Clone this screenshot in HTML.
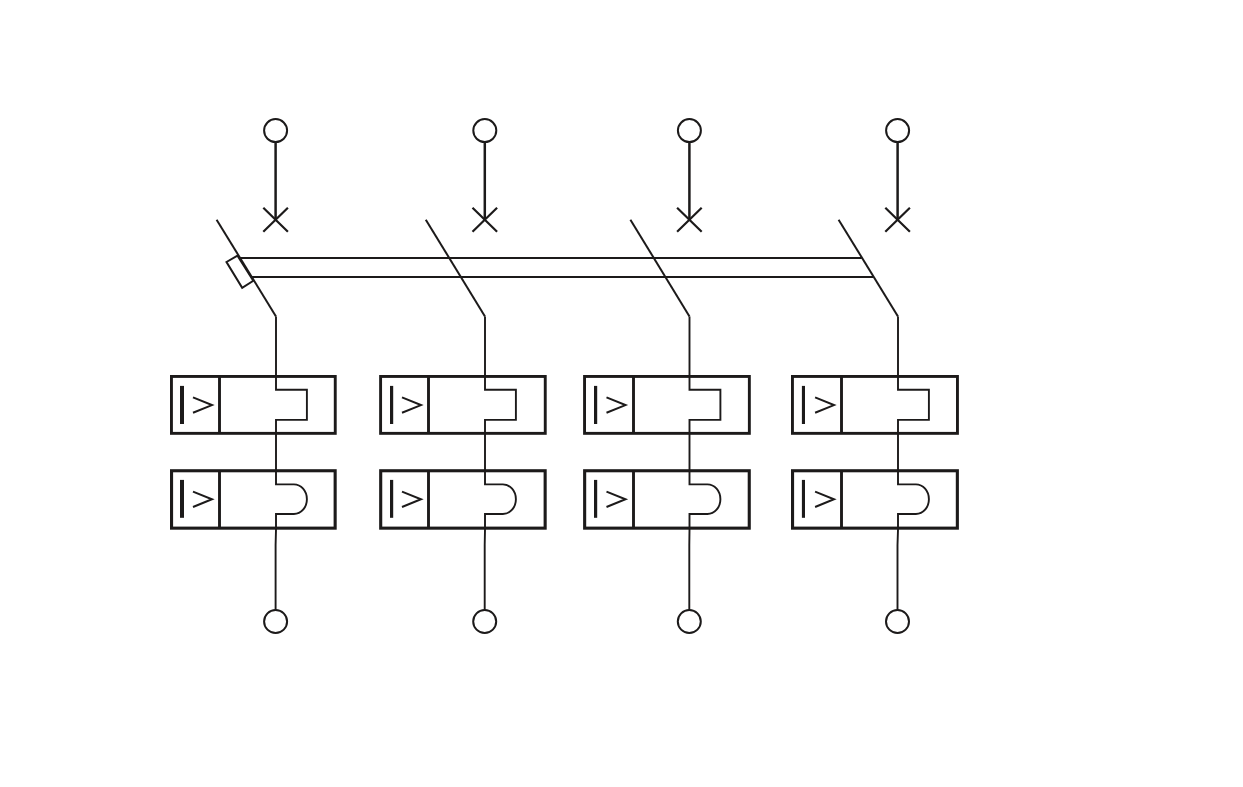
<!DOCTYPE html>
<html><head><meta charset="utf-8"><title>Circuit breaker 4P</title>
<style>html,body{margin:0;padding:0;background:#fff;}svg{display:block;}</style></head>
<body><svg width="1243" height="787" viewBox="0 0 1243 787">
<rect width="1243" height="787" fill="#fff"/>
<line x1="239.5" y1="258" x2="861.8" y2="258" stroke="#1c1a1a" stroke-width="2"/>
<line x1="252" y1="277" x2="873" y2="277" stroke="#1c1a1a" stroke-width="2"/>
<polygon points="237.5,255.7 226.5,262 242.2,287.8 253.3,280.8" fill="none" stroke="#1c1a1a" stroke-width="2"/>
<circle cx="275.6" cy="130.6" r="11.5" fill="none" stroke="#1c1a1a" stroke-width="2"/>
<line x1="275.6" y1="141.9" x2="275.6" y2="219.5" stroke="#1c1a1a" stroke-width="2.5"/>
<path d="M263.3 207.8 L287.9 231.8 M287.9 207.8 L263.3 231.8" stroke="#1c1a1a" stroke-width="2.2" fill="none"/>
<line x1="216.6" y1="219.7" x2="276" y2="316.4" stroke="#1c1a1a" stroke-width="2"/>
<path d="M276 316.4 V389.8 H306.9 V419.9 H276 V484.4 H293.9 A13 14.8 0 0 1 293.9 514 H276 V529.7 L275.6 545 V610.2" stroke="#1c1a1a" stroke-width="1.9" fill="none"/>
<circle cx="275.6" cy="621.5" r="11.5" fill="none" stroke="#1c1a1a" stroke-width="2"/>
<circle cx="484.8" cy="130.6" r="11.5" fill="none" stroke="#1c1a1a" stroke-width="2"/>
<line x1="484.8" y1="141.9" x2="484.8" y2="219.5" stroke="#1c1a1a" stroke-width="2.5"/>
<path d="M472.5 207.8 L497.1 231.8 M497.1 207.8 L472.5 231.8" stroke="#1c1a1a" stroke-width="2.2" fill="none"/>
<line x1="425.8" y1="219.7" x2="485" y2="316.4" stroke="#1c1a1a" stroke-width="2"/>
<path d="M485 316.4 V389.8 H515.9 V419.9 H485 V484.4 H502.9 A13 14.8 0 0 1 502.9 514 H485 V529.7 L484.7 545 V610.2" stroke="#1c1a1a" stroke-width="1.9" fill="none"/>
<circle cx="484.7" cy="621.5" r="11.5" fill="none" stroke="#1c1a1a" stroke-width="2"/>
<circle cx="689.4" cy="130.6" r="11.5" fill="none" stroke="#1c1a1a" stroke-width="2"/>
<line x1="689.4" y1="141.9" x2="689.4" y2="219.5" stroke="#1c1a1a" stroke-width="2.5"/>
<path d="M677.1 207.8 L701.7 231.8 M701.7 207.8 L677.1 231.8" stroke="#1c1a1a" stroke-width="2.2" fill="none"/>
<line x1="630.4" y1="219.7" x2="689.5" y2="316.4" stroke="#1c1a1a" stroke-width="2"/>
<path d="M689.5 316.4 V389.8 H720.4 V419.9 H689.5 V484.4 H707.4 A13 14.8 0 0 1 707.4 514 H689.5 V529.7 L689.3 545 V610.2" stroke="#1c1a1a" stroke-width="1.9" fill="none"/>
<circle cx="689.3" cy="621.5" r="11.5" fill="none" stroke="#1c1a1a" stroke-width="2"/>
<circle cx="897.6" cy="130.6" r="11.5" fill="none" stroke="#1c1a1a" stroke-width="2"/>
<line x1="897.6" y1="141.9" x2="897.6" y2="219.5" stroke="#1c1a1a" stroke-width="2.5"/>
<path d="M885.3 207.8 L909.9 231.8 M909.9 207.8 L885.3 231.8" stroke="#1c1a1a" stroke-width="2.2" fill="none"/>
<line x1="838.6" y1="219.7" x2="898" y2="316.4" stroke="#1c1a1a" stroke-width="2"/>
<path d="M898 316.4 V389.8 H928.9 V419.9 H898 V484.4 H915.9 A13 14.8 0 0 1 915.9 514 H898 V529.7 L897.5 545 V610.2" stroke="#1c1a1a" stroke-width="1.9" fill="none"/>
<circle cx="897.5" cy="621.5" r="11.5" fill="none" stroke="#1c1a1a" stroke-width="2"/>
<rect x="171.45" y="376.45" width="163.8" height="56.9" fill="none" stroke="#1c1a1a" stroke-width="2.9"/>
<line x1="219.5" y1="376.4" x2="219.5" y2="433.4" stroke="#1c1a1a" stroke-width="2.9"/>
<rect x="180" y="385.9" width="4" height="38.1" fill="#1c1a1a"/>
<path d="M193 397.4 L212 405.1 L193 412.8" stroke="#1c1a1a" stroke-width="2" fill="none" stroke-miterlimit="10"/>
<rect x="171.55" y="470.75" width="163.6" height="57.4" fill="none" stroke="#1c1a1a" stroke-width="3.1"/>
<line x1="219.5" y1="470.6" x2="219.5" y2="528.3" stroke="#1c1a1a" stroke-width="2.9"/>
<rect x="180" y="479.9" width="4" height="37.9" fill="#1c1a1a"/>
<path d="M193 491.6 L212 499.3 L193 507" stroke="#1c1a1a" stroke-width="2" fill="none" stroke-miterlimit="10"/>
<rect x="380.6" y="376.45" width="164.65" height="56.9" fill="none" stroke="#1c1a1a" stroke-width="2.9"/>
<line x1="428.5" y1="376.4" x2="428.5" y2="433.4" stroke="#1c1a1a" stroke-width="2.9"/>
<rect x="390" y="385.9" width="3.2" height="38.1" fill="#1c1a1a"/>
<path d="M402 397.4 L421 405.1 L402 412.8" stroke="#1c1a1a" stroke-width="2" fill="none" stroke-miterlimit="10"/>
<rect x="380.7" y="470.75" width="164.45" height="57.4" fill="none" stroke="#1c1a1a" stroke-width="3.1"/>
<line x1="428.5" y1="470.6" x2="428.5" y2="528.3" stroke="#1c1a1a" stroke-width="2.9"/>
<rect x="390" y="479.9" width="3.2" height="37.9" fill="#1c1a1a"/>
<path d="M402 491.6 L421 499.3 L402 507" stroke="#1c1a1a" stroke-width="2" fill="none" stroke-miterlimit="10"/>
<rect x="584.55" y="376.45" width="164.8" height="56.9" fill="none" stroke="#1c1a1a" stroke-width="2.9"/>
<line x1="633.5" y1="376.4" x2="633.5" y2="433.4" stroke="#1c1a1a" stroke-width="2.9"/>
<rect x="594" y="385.9" width="3.2" height="38.1" fill="#1c1a1a"/>
<path d="M606.5 397.4 L625.5 405.1 L606.5 412.8" stroke="#1c1a1a" stroke-width="2" fill="none" stroke-miterlimit="10"/>
<rect x="584.65" y="470.75" width="164.6" height="57.4" fill="none" stroke="#1c1a1a" stroke-width="3.1"/>
<line x1="633.5" y1="470.6" x2="633.5" y2="528.3" stroke="#1c1a1a" stroke-width="2.9"/>
<rect x="594" y="479.9" width="3.2" height="37.9" fill="#1c1a1a"/>
<path d="M606.5 491.6 L625.5 499.3 L606.5 507" stroke="#1c1a1a" stroke-width="2" fill="none" stroke-miterlimit="10"/>
<rect x="792.45" y="376.45" width="165" height="56.9" fill="none" stroke="#1c1a1a" stroke-width="2.9"/>
<line x1="841.5" y1="376.4" x2="841.5" y2="433.4" stroke="#1c1a1a" stroke-width="2.9"/>
<rect x="801.9" y="385.9" width="3.1" height="38.1" fill="#1c1a1a"/>
<path d="M815.1 397.4 L834 405.1 L815.1 412.8" stroke="#1c1a1a" stroke-width="2" fill="none" stroke-miterlimit="10"/>
<rect x="792.55" y="470.75" width="164.8" height="57.4" fill="none" stroke="#1c1a1a" stroke-width="3.1"/>
<line x1="841.5" y1="470.6" x2="841.5" y2="528.3" stroke="#1c1a1a" stroke-width="2.9"/>
<rect x="801.9" y="479.9" width="3.1" height="37.9" fill="#1c1a1a"/>
<path d="M815.1 491.6 L834 499.3 L815.1 507" stroke="#1c1a1a" stroke-width="2" fill="none" stroke-miterlimit="10"/>
</svg></body></html>
